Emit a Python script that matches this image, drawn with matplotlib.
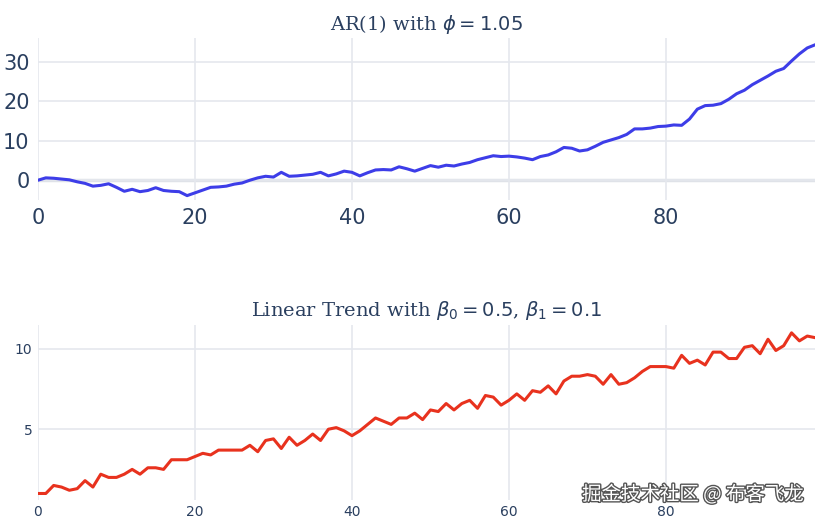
import matplotlib.pyplot as plt
import matplotlib.patheffects as pe
import numpy as np

# AR(1) series
ar_vals = [0.0, 0.6, 0.5, 0.3, 0.1, -0.4, -0.8, -1.5, -1.3, -0.9, -1.8, -2.8, -2.3, -2.9, -2.6, -1.9, -2.6, -2.8, -2.9, -3.9,
           -3.2, -2.5, -1.8, -1.7, -1.5, -1.0, -0.7, 0.0, 0.6, 1.0, 0.8, 2.0, 1.0, 1.1, 1.3, 1.5, 2.0, 1.1, 1.6, 2.3,
           2.0, 1.1, 1.9, 2.6, 2.7, 2.6, 3.4, 2.9, 2.3, 3.0, 3.7, 3.3, 3.8, 3.6, 4.1, 4.5, 5.2, 5.7, 6.2, 6.0,
           6.1, 5.9, 5.6, 5.2, 6.0, 6.4, 7.2, 8.3, 8.1, 7.4, 7.7, 8.6, 9.6, 10.2, 10.8, 11.6, 13.0, 13.0, 13.2, 13.6,
           13.7, 14.0, 13.9, 15.5, 18.0, 18.9, 19.0, 19.4, 20.5, 21.9, 22.8, 24.2, 25.3, 26.4, 27.6, 28.3, 30.2, 32.0, 33.5, 34.3]
# linear trend series
lt_vals = [1.0, 1.0, 1.5, 1.4, 1.2, 1.3, 1.8, 1.4, 2.2, 2.0, 2.0, 2.2, 2.5, 2.2, 2.6, 2.6, 2.5, 3.1, 3.1, 3.1,
           3.3, 3.5, 3.4, 3.7, 3.7, 3.7, 3.7, 4.0, 3.6, 4.3, 4.4, 3.8, 4.5, 4.0, 4.3, 4.7, 4.3, 5.0, 5.1, 4.9,
           4.6, 4.9, 5.3, 5.7, 5.5, 5.3, 5.7, 5.7, 6.0, 5.6, 6.2, 6.1, 6.6, 6.2, 6.6, 6.8, 6.3, 7.1, 7.0, 6.5,
           6.8, 7.2, 6.8, 7.4, 7.3, 7.7, 7.2, 8.0, 8.3, 8.3, 8.4, 8.3, 7.8, 8.4, 7.8, 7.9, 8.2, 8.6, 8.9, 8.9,
           8.9, 8.8, 9.6, 9.1, 9.3, 9.0, 9.8, 9.8, 9.4, 9.4, 10.1, 10.2, 9.7, 10.6, 9.9, 10.2, 11.0, 10.5, 10.8, 10.7]
x = np.arange(100)

fig = plt.figure(figsize=(8.25, 5.29), dpi=100)
ax1 = fig.add_axes([0.046, 0.622, 0.942, 0.306])
ax2 = fig.add_axes([0.046, 0.055, 0.942, 0.331])

for ax in (ax1, ax2):
    ax.set_xlim(0, 99)
    for s in ax.spines.values():
        s.set_visible(False)
    ax.grid(True, color='#e5e8ee', linewidth=1.2)
    ax.set_axisbelow(True)
    ax.tick_params(length=0, colors='#2a3f5f')
    ax.set_xticks([0, 20, 40, 60, 80])

ax1.plot(x, ar_vals, color='#3d3de8', linewidth=2.2)
ax1.axhline(0, color='#dfe2e8', linewidth=2.5, zorder=0.5)
ax1.set_ylim(-5, 36)
ax1.set_yticks([0, 10, 20, 30])
ax1.tick_params(labelsize=15, pad=6)
ax1.set_title(r'AR(1) with $\phi = 1.05$', fontsize=14, family='serif', color='#2a3f5f')

ax2.plot(x, lt_vals, color='#e8321e', linewidth=2.2)
ax2.set_ylim(0.6, 11.5)
ax2.set_yticks([5, 10])
ax2.tick_params(labelsize=10, pad=4)
ax2.set_title(r'Linear Trend with $\beta_0 = 0.5$, $\beta_1 = 0.1$', fontsize=14, family='serif', color='#2a3f5f')

fig.text(0.975, 0.045, '掘金技术社区 @ 布客飞龙', ha='right', va='bottom', fontsize=14,
         family=['Noto Sans CJK SC', 'DejaVu Sans'], color='white',
         path_effects=[pe.withStroke(linewidth=2, foreground='#555555')])

fig.savefig('out.png', dpi=100)
